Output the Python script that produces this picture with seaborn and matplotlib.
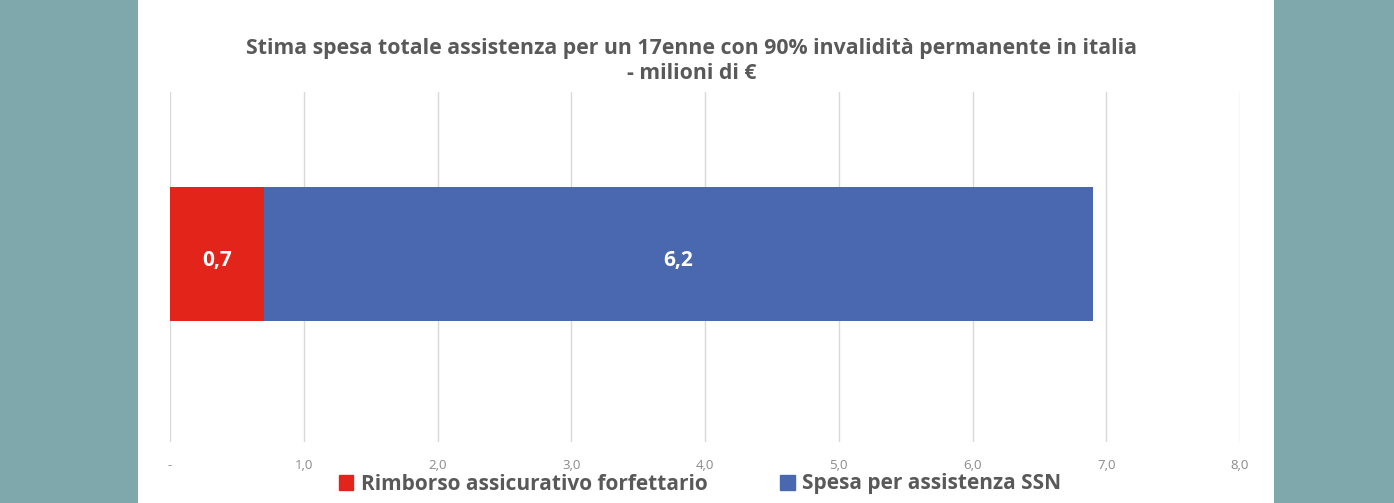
import numpy as np
import pandas as pd
import matplotlib.pyplot as plt
import matplotlib.patches as mpatches
import seaborn as sns

# data
series = ["Rimborso assicurativo forfettario", "Spesa per assistenza SSN"]
values = [0.7, 6.2]
colors = ["#E3241B", "#4A68B0"]
xticks = [0, 1, 2, 3, 4, 5, 6, 7, 8]
xticklabels = ["-", "1,0", "2,0", "3,0", "4,0", "5,0", "6,0", "7,0", "8,0"]
title = "Stima spesa totale assistenza per un 17enne con 90% invalidità permanente in italia\n- milioni di €"

sns.set_theme(style="white")
plt.rcParams['font.family'] = ['Open Sans', 'DejaVu Sans']

fig = plt.figure(figsize=(13.94, 5.03), dpi=100, facecolor="#7FA8AC")
# white card behind the chart
fig.patches.append(mpatches.Rectangle((138 / 1394, 0), (1274 - 138) / 1394, 1,
                                      transform=fig.transFigure, facecolor="white",
                                      edgecolor="none", zorder=-5))

ax = fig.add_axes([170 / 1394, 1 - 442 / 503, (1240 - 170) / 1394, (442 - 92) / 503])
ax.set_facecolor("none")
ax.set_zorder(2)

# stacked bars: draw cumulative total first, then the first segment over it
cum = np.cumsum(values)
df = pd.DataFrame({"cat": ["a"], "total": [cum[-1]], "first": [values[0]]})
sns.barplot(data=df, x="total", y="cat", color=colors[1], orient="h", width=0.77,
            saturation=1, linewidth=0, ax=ax, zorder=3)
sns.barplot(data=df, x="first", y="cat", color=colors[0], orient="h", width=0.77,
            saturation=1, linewidth=0, ax=ax, zorder=3)

starts = np.concatenate([[0], cum[:-1]])
for s, v in zip(starts, values):
    ax.text(s + v / 2, 0.04, f"{v:.1f}".replace(".", ","), ha="center", va="center",
            color="white", fontsize=15, fontweight="bold", zorder=4)

ax.set_xlim(0, 8)
ax.set_ylim(1.085, -0.935)
ax.set_xticks(xticks)
ax.set_xticklabels(xticklabels, fontsize=9.5, color="#8A8A8A")
ax.set_yticks([])
ax.set_xlabel("")
ax.set_ylabel("")
ax.tick_params(axis="x", length=0, pad=12)
ax.grid(axis="x", color="#D9D9D9", linewidth=1, zorder=0)
ax.set_axisbelow(True)
for sp in ax.spines.values():
    sp.set_visible(False)

fig.text(691.5 / 1394, 1 - 61 / 503, title, ha="center", va="center",
         fontsize=15.3, fontweight="bold", color="#595959", linespacing=1.25)

handles = [mpatches.Patch(color=c, label=l) for c, l in zip(colors, series)]
fig.legend(handles=handles, loc="center", bbox_to_anchor=(700 / 1394, 1 - 484 / 503),
           ncol=2, frameon=False, handlelength=0.7, handleheight=0.7, handletextpad=0.35,
           columnspacing=3.5, prop={"size": 15, "weight": "bold"}, labelcolor="#595959")

fig.savefig("out.png", dpi=100, facecolor=fig.get_facecolor())
